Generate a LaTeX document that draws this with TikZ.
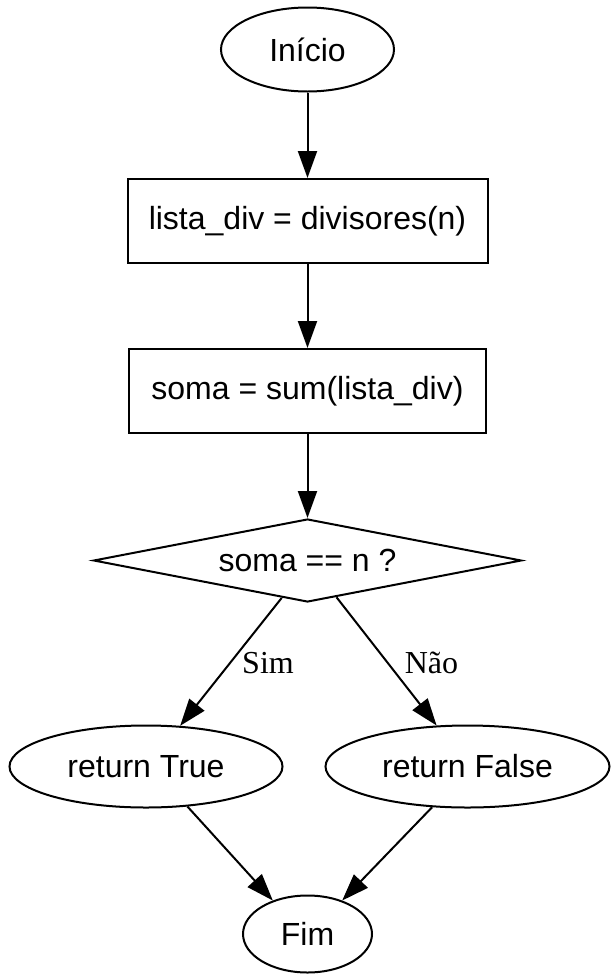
\documentclass[tikz,border=0pt]{standalone}
\usepackage{fontspec}
\setmainfont{Liberation Sans}
\newfontfamily\edgefont{Liberation Serif}
\usetikzlibrary{shapes.geometric,arrows.meta,calc}

\begin{document}
\begin{tikzpicture}[x=1pt,y=1pt,
  every node/.style={font=\fontsize{32}{38}\selectfont},
  base/.style={draw=black, line width=2pt, inner sep=0pt},
  term/.style={base, ellipse},
  proc/.style={base, rectangle},
  cond/.style={base, diamond, shape aspect=5},
  flow/.style={line width=2pt, -{Triangle[length=27pt,width=19pt]}},
  edgelabel/.style={font=\edgefont\fontsize{32}{38}\selectfont, anchor=base}]

  \useasboundingbox (0,0) rectangle (611,-975);

  % flowchart nodes
  \node[term, minimum width=173, minimum height=84] (inicio) at (307.5,-49.5) {Início};
  \node[proc, minimum width=360, minimum height=84] (lista) at (307.5,-221) {lista\_div = divisores(n)};
  \node[proc, minimum width=357, minimum height=84] (soma) at (307.5,-391) {soma = sum(lista\_div)};
  \node[cond, minimum width=428, minimum height=83] (teste) at (307.5,-560.5) {soma == n ?};
  \node[term, minimum width=273, minimum height=82] (rtrue) at (146,-766.5) {return True};
  \node[term, minimum width=284, minimum height=82] (rfalse) at (467.5,-766.5) {return False};
  \node[term, minimum width=129, minimum height=77] (fim) at (307.5,-934) {Fim};

  % branch labels
  \node[edgelabel] (sim) at (268,-673) {Sim};
  \node[edgelabel] (nao) at (431.5,-673) {Não};

  % connectors
  \draw[flow] (inicio) -- (lista);
  \draw[flow] (lista) -- (soma);
  \draw[flow] (soma) -- (teste);
  \draw[flow] ($(teste.south)!0.12!(teste.west)$) -- (rtrue.50);
  \draw[flow] ($(teste.south)!0.135!(teste.east)$) -- (rfalse.127);
  \draw[flow] (rtrue.-44) -- (fim.136);
  \draw[flow] (rfalse.-131) -- (fim.44);
\end{tikzpicture}
\end{document}
